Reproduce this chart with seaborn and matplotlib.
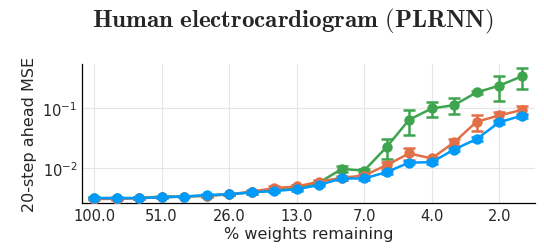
import matplotlib
matplotlib.use("Agg")
import matplotlib.pyplot as plt
import numpy as np
import pandas as pd
import seaborn as sns

# pruning iterations (20% pruned per step)
steps = list(range(20))
tick_pos = [0, 3, 6, 9, 12, 15, 18]
tick_labels = ["100.0", "51.0", "26.0", "13.0", "7.0", "4.0", "2.0"]

green = [0.0032, 0.0032, 0.0032, 0.0034, 0.0034, 0.0035, 0.0037, 0.0040, 0.0043, 0.0048,
         0.0058, 0.0098, 0.0092, 0.0228, 0.065, 0.100, 0.114, 0.186, 0.240, 0.344]
green_err = [0.0001, 0.0001, 0.0001, 0.0001, 0.0001, 0.0001, 0.0001, 0.0002, 0.0003, 0.0005,
             0.0004, 0.0012, 0.0006, 0.0085, 0.029, 0.028, 0.033, 0.012, 0.105, 0.133]
orange = [0.0031, 0.0031, 0.0032, 0.0033, 0.0034, 0.0035, 0.0037, 0.0041, 0.0047, 0.0050,
          0.0060, 0.0070, 0.0076, 0.0114, 0.0178, 0.0147, 0.0273, 0.0603, 0.0765, 0.0944]
orange_err = [0.0001, 0.0001, 0.0001, 0.0001, 0.0001, 0.0001, 0.0001, 0.0002, 0.0003, 0.0003,
              0.0004, 0.0005, 0.0005, 0.0015, 0.004, 0.001, 0.004, 0.018, 0.012, 0.016]
blue = [0.0032, 0.0032, 0.0032, 0.0033, 0.0034, 0.0036, 0.0037, 0.0040, 0.0042, 0.0045,
        0.0053, 0.0068, 0.0068, 0.0087, 0.0125, 0.0127, 0.0207, 0.031, 0.0589, 0.0759]
blue_err = [0.0001, 0.0001, 0.0001, 0.0001, 0.0001, 0.0001, 0.0001, 0.0002, 0.0002, 0.0003,
            0.0003, 0.0004, 0.0004, 0.0005, 0.0008, 0.0008, 0.0015, 0.002, 0.004, 0.006]

series = [("green", green, green_err, "#3EA44E"),
          ("orange", orange, orange_err, "#E36F47"),
          ("blue", blue, blue_err, "#009AFA")]

sns.set_style("white")
plt.rcParams["mathtext.fontset"] = "cm"

fig = plt.figure(figsize=(5.44, 2.53), dpi=100)
ax = fig.add_axes([0.151, 0.194, 0.832, 0.549])

for name, vals, err, col in series:
    df = pd.DataFrame({"step": steps, "mse": vals})
    ax.errorbar(steps, vals, yerr=err, fmt="none", ecolor=col, elinewidth=1.8,
                capsize=4.3, capthick=1.8, zorder=2)
    sns.lineplot(data=df, x="step", y="mse", ax=ax, color=col, linewidth=1.8,
                 marker="o", markersize=7.5, markeredgewidth=0, zorder=3)

ax.set_yscale("log")
ax.set_xlim(-0.53, 19.58)
ax.set_ylim(0.00266, 0.552)
ax.set_xticks(tick_pos)
ax.set_xticklabels(tick_labels)
ax.set_yticks([0.01, 0.1])
ax.minorticks_off()
ax.tick_params(axis="both", direction="in", length=3, labelsize=10.5, width=0.8)
ax.grid(True, color="#e6e6e6", linewidth=0.8)
ax.set_axisbelow(True)
for s in ["top", "right"]:
    ax.spines[s].set_visible(False)
for s in ["left", "bottom"]:
    ax.spines[s].set_color("black")
    ax.spines[s].set_linewidth(0.9)

ax.set_xlabel("% weights remaining", fontsize=11.5, labelpad=2)
ax.set_ylabel("20-step ahead MSE", fontsize=11.5, labelpad=4)
fig.text(0.539, 0.915, r"$\mathbf{Human\ electrocardiogram\ (PLRNN)}$",
         fontsize=18, ha="center", va="center")

fig.savefig("out.png", dpi=100)
